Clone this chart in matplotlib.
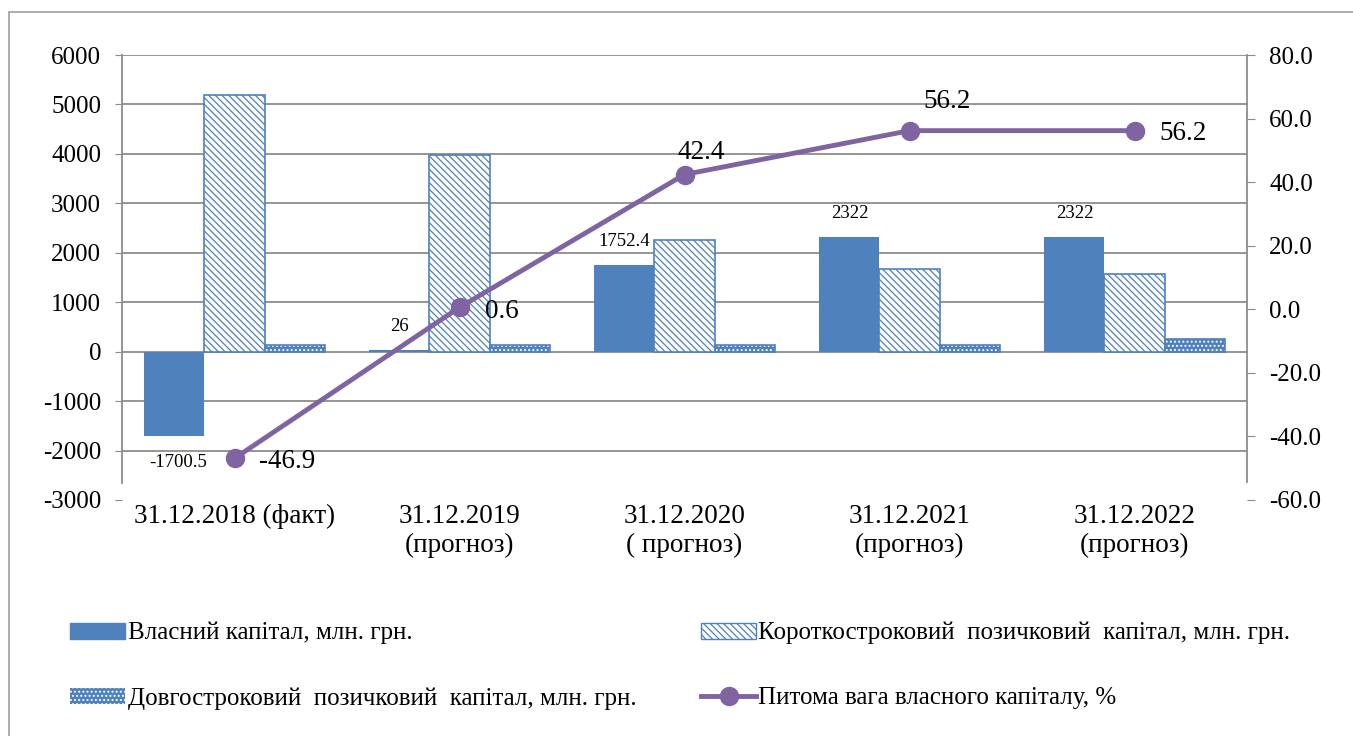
import matplotlib.pyplot as plt
import matplotlib.patches as mpatches
from matplotlib.lines import Line2D
import numpy as np

plt.rcParams['font.family'] = ['Liberation Serif', 'DejaVu Serif']
plt.rcParams['hatch.linewidth'] = 0.9
plt.rcParams['axes.unicode_minus'] = False

categories = ['31.12.2018 (факт)', '31.12.2019\n(прогноз)', '31.12.2020\n( прогноз)',
              '31.12.2021\n(прогноз)', '31.12.2022\n(прогноз)']
own_capital = [-1700.5, 26, 1752.4, 2322, 2322]
short_loans = [5190, 3970, 2250, 1680, 1580]
long_loans = [140, 140, 140, 140, 260]
own_share = [-46.9, 0.6, 42.4, 56.2, 56.2]
own_labels = ['-1700.5', '26', '1752.4', '2322', '2322']
share_labels = ['-46.9', '0.6', '42.4', '56.2', '56.2']

blue = '#4F81BD'
purple = '#8064A2'
grid_c = '#8c8c8c'

fig = plt.figure(figsize=(13.53, 7.36), dpi=100)
fig.patches.append(mpatches.Rectangle((9 / 1353, -0.05), 1.1, 1 - 12 / 736 + 0.05,
                                      transform=fig.transFigure, fill=False,
                                      edgecolor='#a0a0a0', lw=1.2))

ax1 = fig.add_axes([122 / 1353, 1 - 500 / 736, (1247 - 122) / 1353, (500 - 55) / 736])
ax2 = ax1.twinx()

x = np.arange(len(categories))
w = 0.267

ax1.bar(x - w, own_capital, w, color=blue, zorder=3)
ax1.bar(x, short_loans, w, facecolor='white', edgecolor=blue, hatch='\\\\\\\\\\', lw=1.2, zorder=3)
ax1.bar(x + w, long_loans, w, facecolor=blue, edgecolor='white', hatch='....', lw=0, zorder=3)
ax1.bar(x + w, long_loans, w, facecolor='none', edgecolor=blue, lw=1.2, zorder=4)

for xi, v, lab in zip(x, own_capital, own_labels):
    dy = 17 if v >= 0 else -19
    dx = 3 if v < 0 else 0
    ax1.annotate(lab, (xi - w, v), xytext=(dx, dy), textcoords='offset points',
                 ha='center', va='center', fontsize=13.5, zorder=5)

ax2.plot(x, own_share, color=purple, lw=3.5, marker='o', markersize=13, zorder=5)
offsets = [(18, -2), (18, -3), (12, 16), (27, 21), (18, -2)]
for xi, v, lab, off in zip(x, own_share, share_labels, offsets):
    ha = 'left' if off[1] < 0 else 'center'
    ax2.annotate(lab, (xi, v), xytext=off, textcoords='offset points',
                 ha=ha, va='center', fontsize=19.5)

ax1.set_xlim(-0.5, 4.5)
ax1.set_ylim(-3000, 6000)
ax1.set_yticks(range(-3000, 6001, 1000))
ax2.set_ylim(-60, 80)
ax2.set_yticks(range(-60, 81, 20))
ax2.set_yticklabels([f'{t:.1f}' for t in range(-60, 81, 20)])

ax1.yaxis.grid(True, color=grid_c, lw=1.3)
ax1.set_axisbelow(True)
ax1.get_ygridlines()[0].set_visible(False)

for s in ['top', 'bottom', 'right']:
    ax1.spines[s].set_visible(False)
for s in ['top', 'bottom', 'left']:
    ax2.spines[s].set_visible(False)
ax1.spines['left'].set_color(grid_c)
ax1.spines['left'].set_linewidth(1.3)
ax1.spines['left'].set_bounds(-2650, 6000)
ax2.spines['right'].set_color(grid_c)
ax2.spines['right'].set_linewidth(1.3)
ax2.spines['right'].set_bounds(-54.3, 80)

ax1.set_xticks(x)
ax1.set_xticklabels(categories, fontsize=19.5, linespacing=1.2)
ax1.tick_params(axis='x', length=0, pad=3)
ax1.tick_params(axis='y', labelsize=18, length=5, color=grid_c, pad=10)
ax2.tick_params(axis='y', labelsize=18, length=6, color=grid_c, pad=10)

h_own = mpatches.Patch(facecolor=blue, edgecolor=blue)
h_long = mpatches.Patch(facecolor=blue, edgecolor='white', hatch='....', lw=0)
h_short = mpatches.Patch(facecolor='white', edgecolor=blue, hatch='\\\\\\\\\\')
h_share = Line2D([], [], color=purple, lw=3.5, marker='o', markersize=13)

leg_kw = dict(loc='upper left', frameon=False, fontsize=18, handlelength=2.2,
              handleheight=0.6, handletextpad=0.1, labelspacing=1.7,
              borderpad=0, borderaxespad=0)
fig.legend([h_own, h_long],
           ['Власний капітал, млн. грн.',
            'Довгостроковий  позичковий  капітал, млн. грн.'],
           bbox_to_anchor=(70 / 1353, 1 - 622 / 736), **leg_kw)
fig.legend([h_short, h_share],
           ['Короткостроковий  позичковий  капітал, млн. грн.',
            'Питома вага власного капіталу, %'],
           bbox_to_anchor=(701 / 1353, 1 - 622 / 736), **leg_kw)

fig.savefig('out.png', dpi=100)
